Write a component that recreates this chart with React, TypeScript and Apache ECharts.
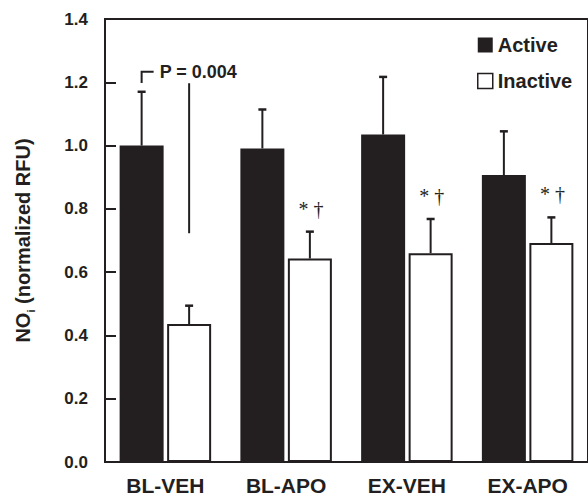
import React, { useEffect, useRef } from "react";
import * as echarts from "echarts";

const categories = ["BL-VEH", "BL-APO", "EX-VEH", "EX-APO"];
const activeMeans = [1.0, 0.991, 1.035, 0.907];
const activeErrTop = [1.17, 1.114, 1.217, 1.045];
const inactiveMeans = [0.436, 0.643, 0.66, 0.692];
const inactiveErrTop = [0.494, 0.728, 0.768, 0.773];
const sigMarks = ["", "* \u2020", "* \u2020", "* \u2020"];
const pLabel = "P = 0.004";
const pBracket = [1.198, 1.233]; // bracket over Active BL-VEH
const pLine = [0.723, 1.197]; // line over Inactive BL-VEH
const yMin = 0;
const yMax = 1.4;
const yInterval = 0.2;

const INK = "#231f20";
const FONT = "'Liberation Sans', Arial, Helvetica, sans-serif";
const BAR_W = 44;
const BAR_GAP = 3.5;
const OFF = (BAR_W + BAR_GAP) / 2;

export default function App() {
  const ref = useRef<HTMLDivElement>(null);
  useEffect(() => {
    if (!ref.current) return;
    const chart = echarts.init(ref.current, null, { renderer: "svg" });

    const errData = categories.map((_, i) => [i, activeMeans[i], activeErrTop[i], inactiveMeans[i], inactiveErrTop[i]]);

    const errRender = (params: any, api: any) => {
      const i = api.value(0);
      const children: any[] = [];
      const pairs = [
        [api.value(1), api.value(2), -OFF],
        [api.value(3), api.value(4), OFF],
      ];
      pairs.forEach(([m, t, off]) => {
        const b = api.coord([i, m]);
        const tp = api.coord([i, t]);
        const x = b[0] + off;
        children.push({
          type: "line",
          shape: { x1: x, y1: b[1], x2: x, y2: tp[1] },
          style: { stroke: INK, lineWidth: 2 },
        });
        children.push({
          type: "line",
          shape: { x1: x - 4, y1: tp[1], x2: x + 4, y2: tp[1] },
          style: { stroke: INK, lineWidth: 2.5 },
        });
      });
      const mark = sigMarks[i];
      if (mark) {
        const tp = api.coord([i, api.value(4)]);
        children.push({
          type: "text",
          x: tp[0] + OFF + 1,
          y: tp[1] - 13,
          style: {
            text: mark,
            fill: INK,
            font: "20px 'Liberation Serif', 'Times New Roman', serif",
            align: "center",
            verticalAlign: "bottom",
          },
        });
      }
      return { type: "group", children };
    };

    const pRender = (params: any, api: any) => {
      const i = api.value(0);
      const b0 = api.coord([i, pBracket[0]]);
      const b1 = api.coord([i, pBracket[1]]);
      const l0 = api.coord([i, pLine[0]]);
      const l1 = api.coord([i, pLine[1]]);
      const bx = b0[0] - OFF;
      const lx = l0[0] + OFF;
      return {
        type: "group",
        children: [
          {
            type: "polyline",
            shape: { points: [[bx, b0[1]], [bx, b1[1]], [bx + 12, b1[1]]] },
            style: { stroke: INK, lineWidth: 2, fill: "none" },
          },
          {
            type: "line",
            shape: { x1: lx, y1: l0[1], x2: lx, y2: l1[1] },
            style: { stroke: INK, lineWidth: 2 },
          },
          {
            type: "text",
            x: bx + 18,
            y: b1[1],
            style: {
              text: pLabel,
              fill: INK,
              font: `bold 18px ${FONT}`,
              align: "left",
              verticalAlign: "middle",
            },
          },
        ],
      };
    };

    chart.setOption({
      animation: false,
      backgroundColor: "#fff",
      grid: {
        left: 105,
        top: 19,
        width: 493,
        height: 443,
        show: true,
        borderColor: INK,
        borderWidth: 2,
        backgroundColor: "transparent",
      },
      legend: {
        orient: "vertical",
        left: 472,
        top: 30,
        itemWidth: 15,
        itemHeight: 15,
        itemGap: 16,
        textStyle: {
          fontFamily: FONT,
          fontWeight: "bold",
          fontSize: 20,
          color: INK,
          lineHeight: 20,
        },
        data: [
          { name: "Active", icon: "rect", itemStyle: { color: INK, borderWidth: 0 } },
          { name: "Inactive", icon: "rect", itemStyle: { color: "#fff", borderColor: INK, borderWidth: 1.5 } },
        ],
      },
      xAxis: {
        type: "category",
        data: categories,
        axisLine: { lineStyle: { color: INK, width: 2 } },
        axisTick: { show: false },
        axisLabel: {
          fontFamily: FONT,
          fontWeight: "bold",
          fontSize: 21,
          color: INK,
          margin: 13,
        },
      },
      yAxis: {
        type: "value",
        min: yMin,
        max: yMax,
        interval: yInterval,
        splitLine: { show: false },
        axisLine: { show: true, lineStyle: { color: INK, width: 2 } },
        axisTick: { show: true, inside: true, length: 11, lineStyle: { color: INK, width: 2 } },
        axisLabel: {
          fontFamily: FONT,
          fontWeight: "bold",
          fontSize: 17,
          color: INK,
          margin: 17,
          formatter: (v: number) => v.toFixed(1),
        },
        name: "{m|NO}{s|i}{m| (normalized RFU)}",
        nameLocation: "middle",
        nameRotate: 90,
        nameGap: 69,
        nameTextStyle: {
          rich: {
            m: { fontFamily: FONT, fontWeight: "bold", fontSize: 20, color: INK, lineHeight: 26, verticalAlign: "middle" },
            s: { fontFamily: FONT, fontWeight: "bold", fontSize: 11, color: INK, lineHeight: 11, verticalAlign: "bottom" },
          },
        },
      },
      series: [
        {
          name: "Active",
          type: "bar",
          data: activeMeans,
          barWidth: BAR_W,
          barGap: `${(BAR_GAP / BAR_W) * 100}%`,
          itemStyle: { color: INK },
        },
        {
          name: "Inactive",
          type: "bar",
          data: inactiveMeans,
          barWidth: BAR_W,
          itemStyle: { color: "#fff", borderColor: INK, borderWidth: 2 },
        },
        {
          type: "custom",
          renderItem: errRender,
          data: errData,
          encode: { x: 0, y: 2 },
          z: 5,
          silent: true,
        },
        {
          type: "custom",
          renderItem: pRender,
          data: [[0, pBracket[1]]],
          encode: { x: 0, y: 1 },
          z: 5,
          silent: true,
        },
      ],
    });
    return () => chart.dispose();
  }, []);

  return <div ref={ref} style={{ width: 588, height: 498, position: "absolute", left: 0, top: 0 }} />;
}
